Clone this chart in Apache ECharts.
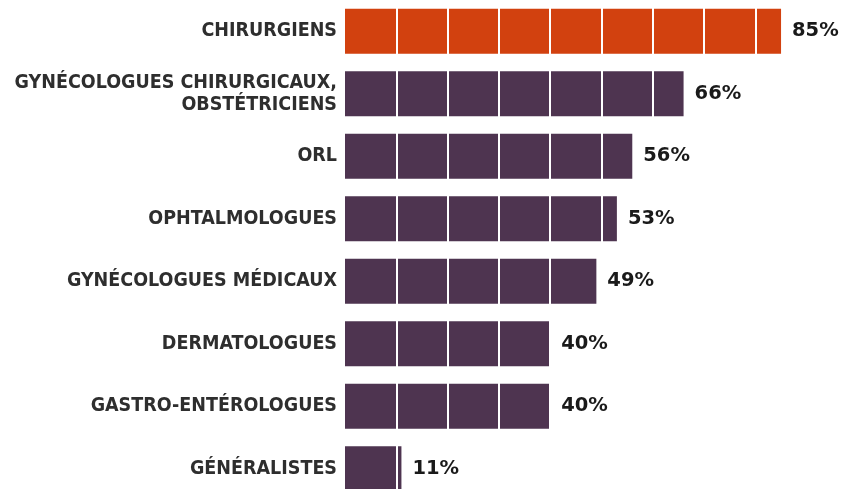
<!DOCTYPE html>
<html><head><meta charset="utf-8">
<script src="https://cdn.jsdelivr.net/npm/echarts@6/dist/echarts.min.js"></script>
<style>html,body{margin:0;padding:0;background:#fff;overflow:hidden;width:841px;height:489px}#c{width:870px;height:510px}</style>
</head><body><div id="c"></div>
<script>
const categories = ["CHIRURGIENS","GYNÉCOLOGUES CHIRURGICAUX,\nOBSTÉTRICIENS","ORL","OPHTALMOLOGUES","GYNÉCOLOGUES MÉDICAUX","DERMATOLOGUES","GASTRO-ENTÉROLOGUES","GÉNÉRALISTES"];
const values = [85, 66, 56, 53, 49, 40, 40, 11];
const highlightIndex = 0;
const colorMain = "#4E3450";
const colorHighlight = "#D2410F";

const chart = echarts.init(document.getElementById('c'), null, {renderer:'canvas'});
chart.setOption({
  backgroundColor: '#fff',
  animation: false,
  grid: {left: 345, top: 0, width: 513, height: 500, containLabel: false},
  xAxis: {
    type: 'value', min: 0, max: 100, interval: 10, z: 10,
    axisLabel: {show: false}, axisLine: {show: false}, axisTick: {show: false},
    splitLine: {show: true, showMinLine: false, showMaxLine: false, lineStyle: {color: '#fff', width: 2}}
  },
  yAxis: {
    type: 'category', data: categories, inverse: true,
    axisLine: {show: false}, axisTick: {show: false},
    axisLabel: {margin: 8, color: '#2e2e2e', fontSize: 19.5, fontWeight: 'bold', fontFamily: 'DejaVu Sans Condensed', lineHeight: 22, align: 'right'}
  },
  series: [{
    type: 'bar', barWidth: 45, z: 2,
    data: values.map((v, i) => ({value: v, itemStyle: {color: i === highlightIndex ? colorHighlight : colorMain}})),
    label: {show: false}
  }, {
    type: 'bar', barWidth: 45, barGap: '-100%', z: 20,
    data: values,
    itemStyle: {color: 'rgba(0,0,0,0)'},
    label: {show: true, position: 'right', distance: 11, formatter: '{c}%', color: '#1a1a1a', fontSize: 19.5, fontWeight: 'bold', fontFamily: 'DejaVu Sans'}
  }]
});
</script></body></html>
